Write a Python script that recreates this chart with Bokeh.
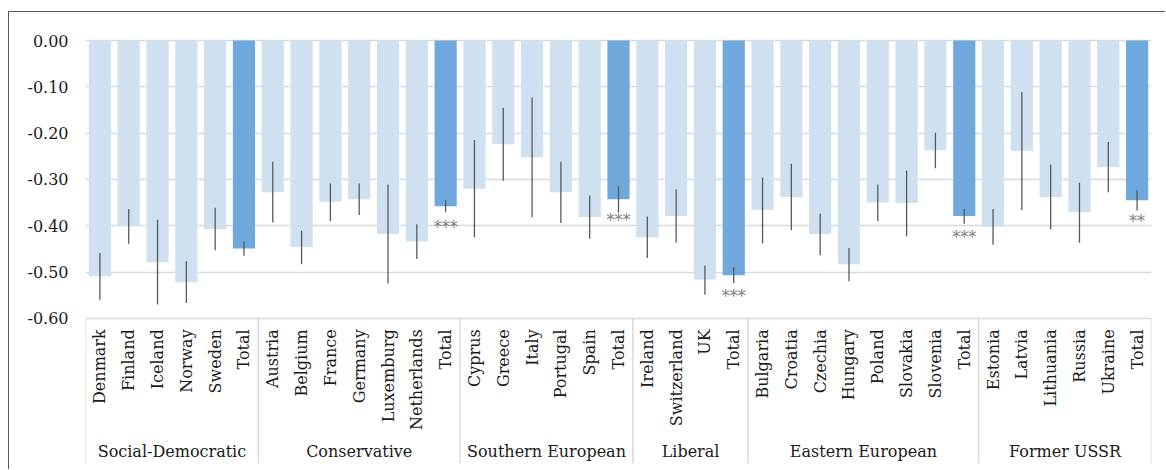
import math
from bokeh.plotting import figure
from bokeh.models import Range1d, FixedTicker, PrintfTickFormatter, ColumnDataSource
from bokeh.core.properties import value
from bokeh.embed import file_html
from bokeh.resources import INLINE

# ---------------- data ----------------
regimes = ["Social-Democratic", "Conservative", "Southern European",
           "Liberal", "Eastern European", "Former USSR"]
regime_sizes = [6, 7, 6, 4, 8, 6]

countries = [
    "Denmark", "Finland", "Iceland", "Norway", "Sweden", "Total",
    "Austria", "Belgium", "France", "Germany", "Luxemburg", "Netherlands", "Total",
    "Cyprus", "Greece", "Italy", "Portugal", "Spain", "Total",
    "Ireland", "Switzerland", "UK", "Total",
    "Bulgaria", "Croatia", "Czechia", "Hungary", "Poland", "Slovakia", "Slovenia", "Total",
    "Estonia", "Latvia", "Lithuania", "Russia", "Ukraine", "Total",
]

estimates = [
    -0.509, -0.401, -0.479, -0.522, -0.407, -0.449,
    -0.328, -0.446, -0.348, -0.343, -0.418, -0.434, -0.358,
    -0.320, -0.224, -0.252, -0.328, -0.381, -0.343,
    -0.425, -0.379, -0.516, -0.507,
    -0.366, -0.338, -0.418, -0.483, -0.350, -0.351, -0.237, -0.379,
    -0.402, -0.238, -0.338, -0.371, -0.273, -0.345,
]

ci_low = [
    -0.560, -0.439, -0.570, -0.567, -0.453, -0.465,
    -0.393, -0.483, -0.390, -0.377, -0.525, -0.472, -0.371,
    -0.425, -0.303, -0.382, -0.394, -0.428, -0.371,
    -0.470, -0.437, -0.549, -0.524,
    -0.438, -0.410, -0.464, -0.520, -0.390, -0.423, -0.276, -0.396,
    -0.441, -0.366, -0.408, -0.437, -0.328, -0.367,
]

ci_high = [
    -0.459, -0.364, -0.387, -0.477, -0.361, -0.434,
    -0.262, -0.411, -0.309, -0.309, -0.311, -0.397, -0.345,
    -0.215, -0.145, -0.123, -0.262, -0.335, -0.315,
    -0.380, -0.322, -0.486, -0.490,
    -0.296, -0.266, -0.374, -0.448, -0.311, -0.281, -0.199, -0.364,
    -0.364, -0.111, -0.268, -0.307, -0.219, -0.323,
]

# significance of the regime totals (in regime order)
total_stars = ["", "***", "***", "***", "***", "**"]

y_ticks = [0.0, -0.1, -0.2, -0.3, -0.4, -0.5, -0.6]

# ---------------- derived ----------------
n = len(countries)
xs = list(range(n))
is_total = [c == "Total" for c in countries]
colors = ["#6fa8dc" if t else "#cfe0f1" for t in is_total]
stars = []
ti = 0
for t in is_total:
    if t:
        stars.append(total_stars[ti])
        ti += 1
    else:
        stars.append("")

table_top = min(y_ticks)

src = ColumnDataSource(dict(
    x=xs, country=countries, est=estimates, lo=ci_low, hi=ci_high,
    color=colors, stars=stars, label_y=[table_top] * n,
))

bounds = [0]
for k in regime_sizes:
    bounds.append(bounds[-1] + k)
sep_x = [b - 0.5 for b in bounds]
grp_x = [(bounds[i] + bounds[i + 1] - 1) / 2 for i in range(len(regimes))]

# ---------------- figure ----------------
y_range = Range1d(-0.9136, 0.0605)
p = figure(width=1157, height=458, output_backend="svg", toolbar_location=None,
           x_range=Range1d(-0.5, n - 0.5), y_range=y_range,
           x_axis_location=None,
           min_border_left=76, min_border_right=15, min_border_top=0, min_border_bottom=7)
p.styles = {"border-top": "1px solid #5a5a5a", "border-left": "1px solid #5a5a5a",
            "margin-top": "11px", "margin-left": "8px"}
p.outline_line_color = None
p.background_fill_color = "white"
p.border_fill_color = "white"

p.xgrid.visible = False
p.ygrid.ticker = FixedTicker(ticks=y_ticks)
p.ygrid.grid_line_color = "#d9d9d9"
p.ygrid.grid_line_width = 1.3

ya = p.yaxis[0]
ya.ticker = FixedTicker(ticks=y_ticks)
ya.formatter = PrintfTickFormatter(format="%.2f")
ya.axis_line_color = None
ya.major_tick_line_color = None
ya.minor_tick_line_color = None
ya.major_tick_out = 0
ya.major_tick_in = 0
ya.major_label_standoff = 17
ya.major_label_text_font = "DejaVu Serif"
ya.major_label_text_font_size = "16px"
ya.major_label_text_color = "#1a1a1a"

# bars
p.vbar(x="x", top="est", bottom=0, width=0.77, fill_color="color",
       line_color=None, source=src)

# confidence intervals
p.segment(x0="x", y0="lo", x1="x", y1="hi", line_color="#595959",
          line_width=1.3, source=src)

# significance stars
p.text(x="x", y="est", text="stars", source=src, text_align="center",
       text_baseline="top", y_offset=12, text_font=value("DejaVu Serif"),
       text_font_size="16px", text_color="#7a7a7a")

# label table: separators
p.segment(x0=sep_x, y0=[table_top] * len(sep_x), x1=sep_x,
          y1=[y_range.start] * len(sep_x), line_color="#d9d9d9", line_width=1.5)

# country labels
p.text(x="x", y="label_y", text="country", source=src, angle=math.pi / 2,
       text_align="right", text_baseline="middle", y_offset=11,
       text_font=value("DejaVu Serif"), text_font_size="16px",
       text_color="#1a1a1a")

# regime labels
p.text(x=grp_x, y=[table_top] * len(grp_x), text=regimes, text_align="center",
       text_baseline="middle", y_offset=133,
       text_font=value("DejaVu Serif"), text_font_size="16px",
       text_color="#1a1a1a")

open("out.html", "w").write(file_html(p, INLINE))
